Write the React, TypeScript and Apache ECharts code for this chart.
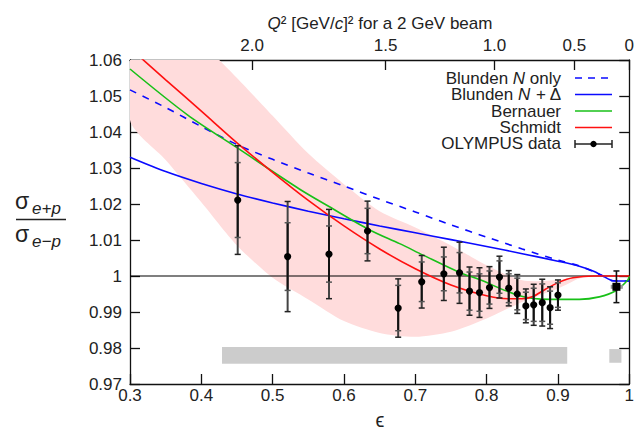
import React, { useEffect, useRef } from "react";
import * as echarts from "echarts";

// ---------- data ----------
const bandEps = [0.3, 0.35, 0.4, 0.45, 0.5, 0.55, 0.6, 0.65, 0.7, 0.75, 0.8, 0.85, 0.9, 0.93, 0.953];
const bandLower = [1.0433, 1.0322, 1.0205, 1.0085, 0.9995, 0.9935, 0.9875, 0.9842, 0.9831, 0.9845, 0.9882, 0.9928, 0.9965, 0.9993, 1.0];
const bandUpper = [1.085, 1.075, 1.065, 1.055, 1.0445, 1.034, 1.0255, 1.018, 1.0135, 1.0085, 1.003, 0.9988, 0.9989, 0.9998, 1.0];

const nOnlyEps = [0.3, 0.35, 0.4, 0.45, 0.5, 0.55, 0.6, 0.65, 0.7, 0.75, 0.8, 0.85, 0.9, 0.93, 0.95, 0.963, 0.977, 1.0];
const nOnly = [1.0517, 1.0468, 1.0415, 1.0365, 1.0324, 1.0286, 1.025, 1.0213, 1.0178, 1.0142, 1.0108, 1.0075, 1.0044, 1.0028, 1.0012, 1.0, 0.9987, 0.9986];

const nDeltaEps = [0.3, 0.35, 0.4, 0.45, 0.5, 0.55, 0.6, 0.65, 0.7, 0.75, 0.8, 0.85, 0.9, 0.93, 0.95, 0.963, 0.977, 1.0];
const nDelta = [1.033, 1.029, 1.0257, 1.0228, 1.0203, 1.018, 1.0159, 1.0139, 1.012, 1.0101, 1.0082, 1.0062, 1.0041, 1.0027, 1.0013, 1.0, 0.9987, 0.9986];

const bernEps = [0.3, 0.381, 0.451, 0.538, 0.579, 0.636, 0.678, 0.711, 0.762, 0.79, 0.846, 0.888, 0.93, 0.958, 0.981, 0.998, 1.0];
const bern = [1.0575, 1.0447, 1.0355, 1.0241, 1.0193, 1.0128, 1.009, 1.0058, 1.001, 0.999, 0.9945, 0.9935, 0.9935, 0.9942, 0.9959, 0.9989, 1.0];

const schmEps = [0.3, 0.35, 0.4, 0.45, 0.5, 0.55, 0.6, 0.65, 0.7, 0.75, 0.8, 0.83, 0.85, 0.865, 0.883, 0.902, 0.921, 0.95, 1.0];
const schm = [1.0633, 1.0545, 1.0458, 1.037, 1.0288, 1.021, 1.0139, 1.0075, 1.002, 0.9975, 0.9945, 0.9937, 0.9937, 0.9943, 0.9964, 0.9983, 0.9995, 1.0, 1.0];

const olympusEps = [0.451, 0.521, 0.579, 0.633, 0.676, 0.709, 0.74, 0.762, 0.776, 0.79, 0.804, 0.818, 0.831, 0.843, 0.855, 0.866, 0.878, 0.889, 0.9];
const olympusRatio = [1.0211, 1.0054, 1.0061, 1.0125, 0.9911, 0.9984, 1.0006, 1.0009, 0.9958, 0.9954, 0.9968, 0.9997, 0.9966, 0.995, 0.9917, 0.992, 0.9926, 0.9912, 0.9947];
const olympusTotErr = [0.0151, 0.0153, 0.0124, 0.0083, 0.0081, 0.0073, 0.0074, 0.0085, 0.0067, 0.0069, 0.0058, 0.0058, 0.0049, 0.0054, 0.0047, 0.0057, 0.0065, 0.0058, 0.0042];
const olympusStatErr = [0.0104, 0.0094, 0.0078, 0.0063, 0.0063, 0.0055, 0.0047, 0.0056, 0.0053, 0.0052, 0.0046, 0.0045, 0.004, 0.0044, 0.0038, 0.0046, 0.0052, 0.0046, 0.0034];

const lumiEps = [0.982];
const lumiRatio = [0.997];
const lumiErr = [0.0044];
const lumiEpsLo = [0.974];
const lumiEpsHi = [0.991];

const sysEpsLo = [0.429, 0.972];
const sysEpsHi = [0.913, 0.989];
const sysLo = [0.9756, 0.9759];
const sysHi = [0.9803, 0.9797];

const q2TickEps = [0.4712, 0.6584, 0.811, 0.923, 1.0];
const q2Labels = ["2.0", "1.5", "1.0", "0.5", "0"];

const FONT = '"Liberation Sans", Arial, sans-serif';
const BLUE = "#0a0aff";
const GREEN = "#18c018";
const RED = "#ff1010";

export default function App() {
  const ref = useRef<HTMLDivElement>(null);
  useEffect(() => {
    if (!ref.current) return;
    const chart = echarts.init(ref.current, null, { renderer: "svg" });

    const legendRows = [
      { y: 78, text: "Blunden {i|N} only" },
      { y: 94.5, text: "Blunden {i|N} + Δ" },
      { y: 111, text: "Bernauer" },
      { y: 127, text: "Schmidt" },
      { y: 143.5, text: "OLYMPUS data" },
    ];
    const lx1 = 575, lx2 = 612;
    const graphics: any[] = legendRows.map((r) => ({
      type: "text",
      x: 561,
      y: r.y,
      style: {
        text: r.text,
        align: "right",
        verticalAlign: "middle",
        fontSize: 17,
        lineHeight: 15,
        fontFamily: FONT,
        fill: "#222",
        rich: { i: { fontStyle: "italic", fontSize: 17, lineHeight: 15, fontFamily: FONT, fill: "#222" } },
      },
    }));
    graphics.push(
      { type: "line", shape: { x1: lx1, y1: 78, x2: lx2, y2: 78 }, style: { stroke: BLUE, lineWidth: 1.5, lineDash: [7, 6] } },
      { type: "line", shape: { x1: lx1, y1: 94.5, x2: lx2, y2: 94.5 }, style: { stroke: BLUE, lineWidth: 1.5 } },
      { type: "line", shape: { x1: lx1, y1: 111, x2: lx2, y2: 111 }, style: { stroke: GREEN, lineWidth: 1.5 } },
      { type: "line", shape: { x1: lx1, y1: 127.5, x2: lx2, y2: 127.5 }, style: { stroke: RED, lineWidth: 1.5 } },
      { type: "line", shape: { x1: lx1, y1: 144, x2: lx2, y2: 144 }, style: { stroke: "#222", lineWidth: 1.5 } },
      { type: "line", shape: { x1: lx1, y1: 140, x2: lx1, y2: 148 }, style: { stroke: "#222", lineWidth: 1.5 } },
      { type: "line", shape: { x1: lx2, y1: 140, x2: lx2, y2: 148 }, style: { stroke: "#222", lineWidth: 1.5 } },
      { type: "circle", shape: { cx: (lx1 + lx2) / 2, cy: 144, r: 3.2 }, style: { fill: "#000" } },
      // top axis title
      {
        type: "text",
        x: 380,
        y: 23,
        style: {
          text: "{i|Q}² [GeV/{i|c}]² for a 2 GeV beam",
          align: "center",
          verticalAlign: "middle",
          fontSize: 17,
          fontFamily: FONT,
          fill: "#222",
          rich: { i: { fontStyle: "italic", fontSize: 17, fontFamily: FONT, fill: "#222" } },
        },
      },
      // x axis title
      {
        type: "text",
        x: 380,
        y: 420,
        style: { text: "ϵ", align: "center", verticalAlign: "middle", fontSize: 20, lineHeight: 18, fontFamily: FONT, fill: "#222" },
      },
      // y axis title (fraction)
      { type: "text", x: 15, y: 201, style: { text: "σ", align: "left", verticalAlign: "middle", fontSize: 23, fontFamily: FONT, fill: "#222" } },
      { type: "text", x: 32, y: 208, style: { text: "e+p", align: "left", verticalAlign: "middle", fontSize: 17, fontStyle: "italic", fontFamily: FONT, fill: "#222" } },
      { type: "line", shape: { x1: 16, y1: 219.5, x2: 66, y2: 219.5 }, style: { stroke: "#222", lineWidth: 1.3 } },
      { type: "text", x: 15, y: 234, style: { text: "σ", align: "left", verticalAlign: "middle", fontSize: 23, fontFamily: FONT, fill: "#222" } },
      { type: "text", x: 32, y: 241, style: { text: "e−p", align: "left", verticalAlign: "middle", fontSize: 17, fontStyle: "italic", fontFamily: FONT, fill: "#222" } }
    );

    const axisLine = { show: true, lineStyle: { color: "#111", width: 1.3 } };
    const tick = { show: true, inside: true, length: 10, lineStyle: { color: "#111", width: 1.3 } };
    const labelStyle = { fontSize: 17, fontFamily: FONT, color: "#222" };

    const option: any = {
      animation: false,
      backgroundColor: "#fff",
      grid: { left: 130, right: 7, top: 60, bottom: 48, containLabel: false },
      xAxis: [
        {
          type: "value",
          position: "bottom",
          min: 0.3,
          max: 1.0,
          interval: 0.1,
          axisLine,
          axisTick: tick,
          splitLine: { show: false },
          axisLabel: {
            ...labelStyle,
            margin: 3,
            formatter: (v: number) => (Math.abs(v - 1) < 1e-9 ? "1" : v.toFixed(1)),
          },
        },
        {
          type: "value",
          position: "top",
          min: 0.3,
          max: 1.0,
          axisLine,
          axisTick: { ...tick, customValues: q2TickEps },
          splitLine: { show: false },
          axisLabel: {
            ...labelStyle,
            margin: 6,
            customValues: q2TickEps,
            formatter: (v: number) => {
              const i = q2TickEps.findIndex((t) => Math.abs(t - v) < 1e-6);
              return i >= 0 ? q2Labels[i] : "";
            },
          },
        },
      ],
      yAxis: [
        {
          type: "value",
          position: "left",
          min: 0.97,
          max: 1.06,
          interval: 0.01,
          axisLine,
          axisTick: tick,
          splitLine: { show: false },
          axisLabel: {
            ...labelStyle,
            margin: 8,
            formatter: (v: number) => (Math.abs(v - 1) < 1e-9 ? "1" : v.toFixed(2)),
          },
        },
        {
          type: "value",
          position: "right",
          min: 0.97,
          max: 1.06,
          interval: 0.01,
          axisLine,
          axisTick: tick,
          splitLine: { show: false },
          axisLabel: { show: false },
        },
      ],
      graphic: graphics,
      series: [
        {
          name: "Schmidt uncertainty",
          type: "custom",
          clip: true,
          silent: true,
          data: [[bandEps[0], bandLower[0]]],
          encode: { x: 0, y: 1 },
          renderItem: (params: any, api: any) => {
            const pts: number[][] = [];
            for (let i = 0; i < bandEps.length; i++) pts.push(api.coord([bandEps[i], bandUpper[i]]));
            for (let i = bandEps.length - 1; i >= 0; i--) pts.push(api.coord([bandEps[i], bandLower[i]]));
            return {
              type: "polygon",
              shape: { points: pts, smooth: 0.25 },
              style: { fill: "#ffdcdc", stroke: "none" },
            };
          },
          z: 1,
        },
        {
          name: "Systematic uncertainty",
          type: "custom",
          silent: true,
          data: sysEpsLo.map((e, i) => [e, sysEpsHi[i], sysLo[i], sysHi[i]]),
          encode: { x: [0, 1], y: [2, 3] },
          renderItem: (params: any, api: any) => {
            const p1 = api.coord([api.value(0), api.value(3)]);
            const p2 = api.coord([api.value(1), api.value(2)]);
            return {
              type: "rect",
              shape: { x: p1[0], y: p1[1], width: p2[0] - p1[0], height: p2[1] - p1[1] },
              style: { fill: "#cccccc" },
            };
          },
          z: 2,
        },
        {
          name: "unity",
          type: "line",
          data: [
            [0.3, 1],
            [1, 1],
          ],
          symbol: "none",
          silent: true,
          lineStyle: { color: "#000", width: 1.2 },
          z: 3,
        },
        {
          name: "Blunden N only",
          type: "line",
          data: nOnlyEps.map((e, i) => [e, nOnly[i]]),
          symbol: "none",
          smooth: 0.3,
          lineStyle: { color: BLUE, width: 1.6, type: [7, 7] },
          z: 4,
        },
        {
          name: "Blunden N + Δ",
          type: "line",
          data: nDeltaEps.map((e, i) => [e, nDelta[i]]),
          symbol: "none",
          smooth: 0.3,
          lineStyle: { color: BLUE, width: 1.6 },
          z: 4,
        },
        {
          name: "Bernauer",
          type: "line",
          data: bernEps.map((e, i) => [e, bern[i]]),
          symbol: "none",
          smooth: 0.3,
          lineStyle: { color: GREEN, width: 1.6 },
          z: 4,
        },
        {
          name: "Schmidt",
          type: "line",
          data: schmEps.map((e, i) => [e, schm[i]]),
          symbol: "none",
          smooth: 0.3,
          clip: true,
          lineStyle: { color: RED, width: 1.6 },
          z: 4,
        },
        {
          name: "OLYMPUS data",
          type: "custom",
          data: olympusEps.map((e, i) => [e, olympusRatio[i], olympusTotErr[i], olympusStatErr[i]]),
          encode: { x: 0, y: 1 },
          renderItem: (params: any, api: any) => {
            const x = api.value(0), y = api.value(1), et = api.value(2), es = api.value(3);
            const c = api.coord([x, y]);
            const t = api.coord([x, y + et])[1];
            const b = api.coord([x, y - et])[1];
            const ti = api.coord([x, y + es])[1];
            const bi = api.coord([x, y - es])[1];
            const w = 3;
            const cap = (yy: number, col: string) => ({
              type: "line",
              shape: { x1: c[0] - w, y1: yy, x2: c[0] + w, y2: yy },
              style: { stroke: col, lineWidth: 1.5 },
            });
            return {
              type: "group",
              children: [
                { type: "line", shape: { x1: c[0], y1: t, x2: c[0], y2: b }, style: { stroke: "#444", lineWidth: 2 } },
                { type: "line", shape: { x1: c[0], y1: ti, x2: c[0], y2: bi }, style: { stroke: "#111", lineWidth: 2 } },
                cap(t, "#222"),
                cap(b, "#222"),
                cap(ti, "#555"),
                cap(bi, "#555"),
                { type: "circle", shape: { cx: c[0], cy: c[1], r: 3.6 }, style: { fill: "#000" } },
              ],
            };
          },
          z: 6,
        },
        {
          name: "OLYMPUS 12° point",
          type: "custom",
          data: lumiEps.map((e, i) => [e, lumiRatio[i], lumiErr[i], lumiEpsLo[i], lumiEpsHi[i]]),
          encode: { x: 0, y: 1 },
          renderItem: (params: any, api: any) => {
            const x = api.value(0), y = api.value(1), er = api.value(2);
            const c = api.coord([x, y]);
            const t = api.coord([x, y + er])[1];
            const b = api.coord([x, y - er])[1];
            const l = api.coord([api.value(3), y])[0];
            const r = api.coord([api.value(4), y])[0];
            return {
              type: "group",
              children: [
                { type: "line", shape: { x1: l, y1: c[1], x2: r, y2: c[1] }, style: { stroke: "#999", lineWidth: 4 } },
                { type: "line", shape: { x1: c[0], y1: t, x2: c[0], y2: b }, style: { stroke: "#111", lineWidth: 1.6 } },
                { type: "line", shape: { x1: c[0] - 3, y1: t, x2: c[0] + 3, y2: t }, style: { stroke: "#111", lineWidth: 1.5 } },
                { type: "line", shape: { x1: c[0] - 3, y1: b, x2: c[0] + 3, y2: b }, style: { stroke: "#111", lineWidth: 1.5 } },
                { type: "rect", shape: { x: c[0] - 4, y: c[1] - 4, width: 8, height: 8 }, style: { fill: "#000" } },
              ],
            };
          },
          z: 6,
        },
      ],
    };
    chart.setOption(option);
    return () => chart.dispose();
  }, []);
  return (
    <div
      ref={ref}
      style={{ position: "fixed", left: 0, top: 0, width: 637, height: 432, background: "#fff" }}
    />
  );
}
